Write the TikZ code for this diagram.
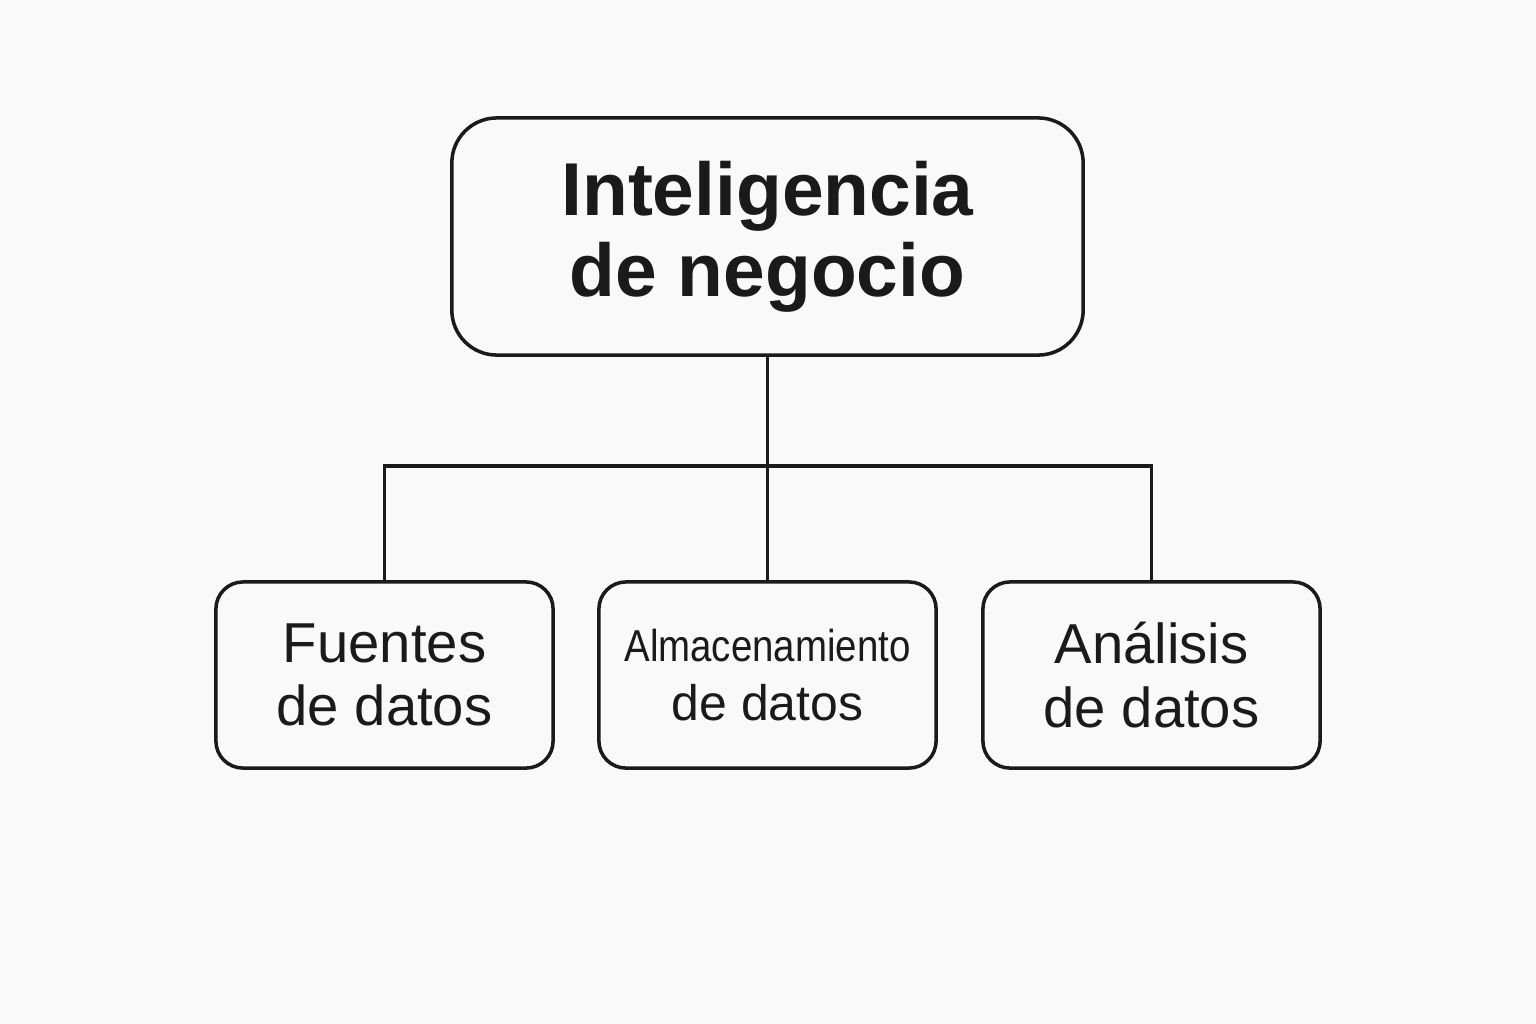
\documentclass[tikz,border=0pt]{standalone}
\usepackage{fontspec}
\setmainfont{Liberation Sans}
\usepackage{graphicx}
\usetikzlibrary{positioning}
\definecolor{ink}{HTML}{1A1A1A}
\definecolor{paper}{HTML}{F9F9F9}

\begin{document}
\begin{tikzpicture}[x=0.01cm, y=-0.01cm, line width=1pt,
	topbox/.style={draw=ink, text=ink, rounded corners=0.45cm, minimum width=6.31cm, minimum height=2.37cm, align=center, font=\fontsize{21.3}{23}\selectfont\bfseries},
	subbox/.style={draw=ink, text=ink, rounded corners=0.27cm, minimum width=3.37cm, minimum height=1.86cm, align=center, font=\fontsize{16}{18}\selectfont}]
	\fill[paper] (0,0) rectangle (1536,1024);
	\node[topbox] (bi) at (767.5,236.5) {\raisebox{-0.06cm}{Inteligencia}\\\raisebox{-0.06cm}{de negocio}};
	\node[subbox] (fuentes) at (384.5,675) {Fuentes\\de datos};
	\node[subbox, font=\fontsize{14.2}{17}\selectfont] (almacen) at (767.5,675) {\scalebox{0.86}[1]{\fontsize{12.7}{14}\selectfont Almacenamiento}\\de datos};
	\node[subbox] (analisis) at (1151.5,675) {Análisis\\de datos};
	\coordinate (hub) at (767.5,466);
	\draw[ink] (bi) -- (hub);
	\draw[ink] (fuentes.north) |- (hub) -| (analisis.north);
	\draw[ink] (hub) -- (almacen);
\end{tikzpicture}
\end{document}
